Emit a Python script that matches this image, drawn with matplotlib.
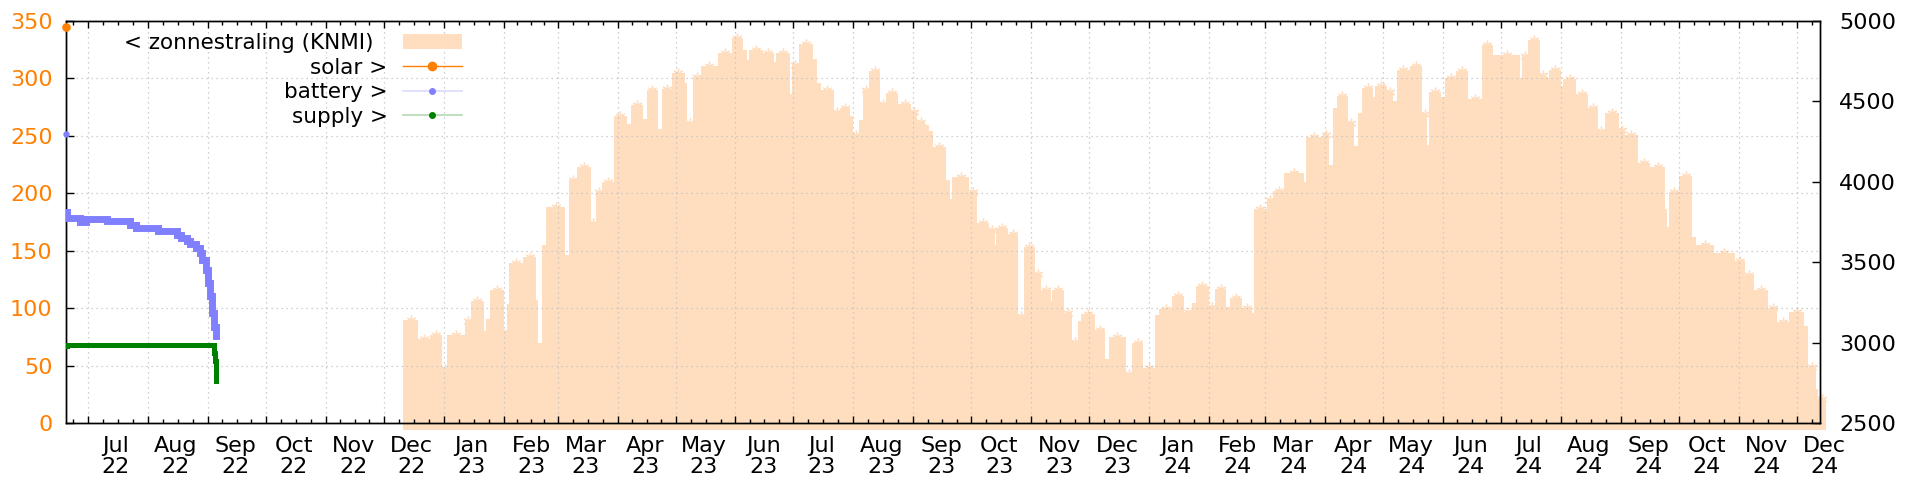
import numpy as np
import pandas as pd
import matplotlib
matplotlib.use("Agg")
import matplotlib.pyplot as plt
from matplotlib.lines import Line2D
from matplotlib.patches import Patch
from matplotlib.transforms import ScaledTranslation

plt.rcParams['font.family'] = ['DejaVu Sans']

# ---------------- data ----------------
# zonnestraling (KNMI), left axis: step start dates and values
rad_dates = [
    "2022-12-11", "2022-12-19", "2022-12-25", "2022-12-31", "2023-01-03", "2023-01-12",
    "2023-01-15", "2023-01-22", "2023-01-23", "2023-01-25", "2023-02-01", "2023-02-03",
    "2023-02-04", "2023-02-11", "2023-02-18", "2023-02-19", "2023-02-21", "2023-02-23",
    "2023-03-05", "2023-03-07", "2023-03-11", "2023-03-18", "2023-03-21", "2023-03-24",
    "2023-03-30", "2023-04-06", "2023-04-08", "2023-04-14", "2023-04-16", "2023-04-22",
    "2023-04-24", "2023-04-29", "2023-05-06", "2023-05-07", "2023-05-10", "2023-05-14",
    "2023-05-23", "2023-05-30", "2023-06-05", "2023-06-07", "2023-06-08", "2023-06-15",
    "2023-06-21", "2023-06-22", "2023-06-29", "2023-06-30", "2023-07-04", "2023-07-11",
    "2023-07-13", "2023-07-15", "2023-07-22", "2023-07-25", "2023-07-30", "2023-08-01",
    "2023-08-04", "2023-08-06", "2023-08-09", "2023-08-15", "2023-08-18", "2023-08-24",
    "2023-08-31", "2023-09-03", "2023-09-07", "2023-09-09", "2023-09-11", "2023-09-18",
    "2023-09-20", "2023-09-21", "2023-09-30", "2023-10-04", "2023-10-10", "2023-10-13",
    "2023-10-14", "2023-10-20", "2023-10-25", "2023-10-28", "2023-11-03", "2023-11-06",
    "2023-11-11", "2023-11-12", "2023-11-18", "2023-11-22", "2023-11-25", "2023-11-27",
    "2023-12-04", "2023-12-09", "2023-12-11", "2023-12-20", "2023-12-23", "2023-12-29",
    "2024-01-04", "2024-01-06", "2024-01-13", "2024-01-19", "2024-01-23", "2024-01-25",
    "2024-02-01", "2024-02-04", "2024-02-10", "2024-02-12", "2024-02-18", "2024-02-23",
    "2024-02-24", "2024-03-02", "2024-03-05", "2024-03-11", "2024-03-21", "2024-03-22",
    "2024-03-31", "2024-04-03", "2024-04-05", "2024-04-07", "2024-04-13", "2024-04-16",
    "2024-04-18", "2024-04-20", "2024-04-26", "2024-04-27", "2024-05-03", "2024-05-06",
    "2024-05-08", "2024-05-15", "2024-05-21", "2024-05-24", "2024-05-25", "2024-05-31",
    "2024-06-02", "2024-06-08", "2024-06-14", "2024-06-21", "2024-06-27", "2024-07-11",
    "2024-07-12", "2024-07-15", "2024-07-21", "2024-07-24", "2024-07-26", "2024-08-01",
    "2024-08-02", "2024-08-09", "2024-08-15", "2024-08-20", "2024-08-24", "2024-08-31",
    "2024-09-03", "2024-09-10", "2024-09-16", "2024-09-24", "2024-09-25", "2024-09-26",
    "2024-10-01", "2024-10-08", "2024-10-10", "2024-10-19", "2024-10-30", "2024-11-04",
    "2024-11-09", "2024-11-16", "2024-11-21", "2024-11-27", "2024-12-05", "2024-12-07",
    "2024-12-11", "2024-12-12",
]
rad_values = [
    90, 73, 77, 47, 77, 89,
    106, 80, 91, 116, 81, 104,
    139, 145, 107, 70, 155, 188,
    146, 212, 223, 174, 201, 210,
    267, 260, 277, 265, 290, 256,
    291, 305, 296, 261, 301, 311,
    322, 335, 325, 316, 325, 322,
    314, 322, 286, 312, 330, 317,
    296, 290, 271, 274, 267, 251,
    264, 290, 306, 278, 287, 278,
    271, 262, 259, 254, 240, 212,
    195, 214, 201, 174, 168, 155,
    170, 165, 93, 153, 130, 116,
    106, 116, 96, 71, 89, 95,
    81, 56, 75, 43, 70, 48,
    94, 99, 111, 97, 105, 119,
    101, 117, 101, 109, 100, 96,
    186, 194, 202, 218, 210, 249,
    251, 225, 274, 285, 261, 241,
    270, 292, 284, 293, 288, 280,
    307, 311, 269, 242, 288, 284,
    300, 306, 282, 329, 320, 300,
    319, 333, 303, 300, 307, 293,
    299, 286, 274, 254, 270, 255,
    251, 226, 223, 186, 171, 201,
    215, 162, 155, 148, 141, 129,
    116, 100, 88, 97, 85, 49,
    30, 21,
]
rad_end = "2024-12-16"

# battery (mV), right axis
battery_dates = [
    "2022-06-19 12:00", "2022-06-20 00:00", "2022-06-23 00:00", "2022-06-27 00:00",
    "2022-06-30 00:00", "2022-07-11 00:00", "2022-07-23 00:00", "2022-07-26 00:00",
    "2022-08-06 00:00", "2022-08-16 00:00", "2022-08-18 00:00", "2022-08-21 00:00",
    "2022-08-23 00:00", "2022-08-26 00:00", "2022-08-28 00:00", "2022-08-29 00:00",
    "2022-08-31 00:00", "2022-09-01 00:00", "2022-09-02 00:00", "2022-09-03 00:00",
    "2022-09-04 00:00", "2022-09-05 00:00",
]
battery_mv = [
    3810, 3778, 3773, 3748,
    3767, 3756, 3731, 3710,
    3694, 3667, 3648, 3631,
    3611, 3590, 3559, 3517,
    3455, 3372, 3289, 3187,
    3100, 3040,
]
battery_single_dates = ["2022-06-19 12:00"]
battery_single_mv = [4296]

# supply (mV), right axis
supply_dates = ["2022-06-19 12:00", "2022-06-20 00:00", "2022-09-03 12:00",
                "2022-09-04 00:00", "2022-09-04 12:00", "2022-09-05 00:00"]
supply_mv = [2982, 2988, 2988, 2935, 2890, 2760]

# solar (mV), right axis
solar_dates = ["2022-06-19 12:00"]
solar_mv = [4963]

x_start = "2022-06-19 12:00"
x_end = "2024-12-13 05:00"
left_ticks = [0, 50, 100, 150, 200, 250, 300, 350]
right_ticks = [2500, 3000, 3500, 4000, 4500, 5000]

# ---------------- style ----------------
ORANGE = "#ff8000"
FILL = "#ffdec0"
BLUE = "#8080ff"
GREEN = "#008000"
W, H = 1920, 480


def to_dt(values):
    return pd.to_datetime(values, format="ISO8601")


fig = plt.figure(figsize=(W / 100, H / 100), dpi=100)
L, R, T, B = 65.7, 1820.3, 20.8, 423.3
ax = fig.add_axes([L / W, 1 - B / H, (R - L) / W, (B - T) / H])
ax2 = ax.twinx()
for a in (ax, ax2):
    for s in a.spines.values():
        s.set_linewidth(1.0)

# zonnestraling fill (steps)
rx = to_dt(rad_dates + [rad_end])
ry = np.array(rad_values + [rad_values[-1]], dtype=float)
ax.fill_between(rx, -5.5, ry, step='post', color=FILL, lw=0, clip_on=False, zorder=1)
starts = rx[:-1]
ends = rx[1:]
dur = np.asarray((ends - starts) / pd.Timedelta(days=1))
mids = starts + (ends - starts) / 2
sel = dur >= 3
ax.plot(mids[sel], ry[:-1][sel], ls='none', marker=(6, 2, 0), ms=7, mew=1.0,
        color=FILL, clip_on=False, zorder=1.5)

# right-axis series
ax2.plot(to_dt(battery_dates), battery_mv, drawstyle='steps-post', color=BLUE,
         lw=5, solid_joinstyle='miter', zorder=3)
ax2.plot(to_dt(battery_single_dates), battery_single_mv, ls='none', marker='o',
         ms=3.6, color=BLUE, clip_on=False, zorder=3)
ax2.plot(to_dt(supply_dates), supply_mv, drawstyle='steps-post', color=GREEN,
         lw=3.6, solid_joinstyle='miter', zorder=4)
ax2.plot(to_dt(solar_dates), solar_mv, ls='none', marker='o', ms=5.2,
         color=ORANGE, clip_on=False, zorder=5)

# axes limits / ticks (after plotting so autoscale cannot move them)
ax.set_ylim(0, 350)
ax.set_yticks(left_ticks)
ax2.set_ylim(2500, 5000)
ax2.set_yticks(right_ticks)

months = pd.date_range("2022-07-01", "2024-12-01", freq="MS")
ax.set_xticks(months)
ax.set_xticklabels([m.strftime("%b\n%y") for m in months], linespacing=1.05)
minor = []
for m in pd.date_range("2022-06-01", "2024-12-01", freq="MS"):
    nxt = m + pd.offsets.MonthBegin(1)
    for k in (1, 2, 3):
        minor.append(m + (nxt - m) * k / 4)
ax.set_xticks(minor, minor=True)
ax.set_xlim(pd.Timestamp(x_start), pd.Timestamp(x_end))
ax2.set_xlim(pd.Timestamp(x_start), pd.Timestamp(x_end))

ax.tick_params(axis='x', which='major', direction='in', length=5, width=1,
               top=True, pad=9.5, labelsize=16)
ax.tick_params(axis='x', which='minor', direction='in', length=3, width=1, top=True)
ax.tick_params(axis='y', direction='in', length=5.8, width=1, labelsize=16,
               labelcolor=ORANGE, pad=9.5, right=False)
ax2.tick_params(axis='y', direction='in', length=5.8, width=1, labelsize=16, pad=13.5)

ax.grid(True, which='major', color='#c0c0c0', ls=(0, (1, 3)), lw=0.9)
ax.set_axisbelow(False)

off = ScaledTranslation(0.28, 0, fig.dpi_scale_trans)
for lbl in ax.get_xticklabels():
    lbl.set_transform(lbl.get_transform() + off)

handles = [
    Patch(facecolor=FILL, edgecolor='none'),
    Line2D([], [], color=ORANGE, lw=1, marker='o', ms=6, mfc=ORANGE, mec=ORANGE),
    Line2D([], [], color=(0.5, 0.5, 1, 0.3), lw=1.2, marker='o', ms=4, mfc=BLUE, mec=BLUE),
    Line2D([], [], color=(0, 0.5, 0, 0.3), lw=1.2, marker='o', ms=4, mfc=GREEN, mec=GREEN),
]
labels = ["< zonnestraling (KNMI)  ", "solar >", "battery >", "supply >"]
ax2.legend(handles, labels, loc='upper right', bbox_to_anchor=(462 / W, 1 - 33 / H),
           bbox_transform=fig.transFigure, frameon=False, markerfirst=False,
           fontsize=15.5, handlelength=2.75, handletextpad=0.7, labelspacing=0.21,
           borderpad=0, borderaxespad=0, numpoints=1)

fig.savefig("out.png", dpi=100)
